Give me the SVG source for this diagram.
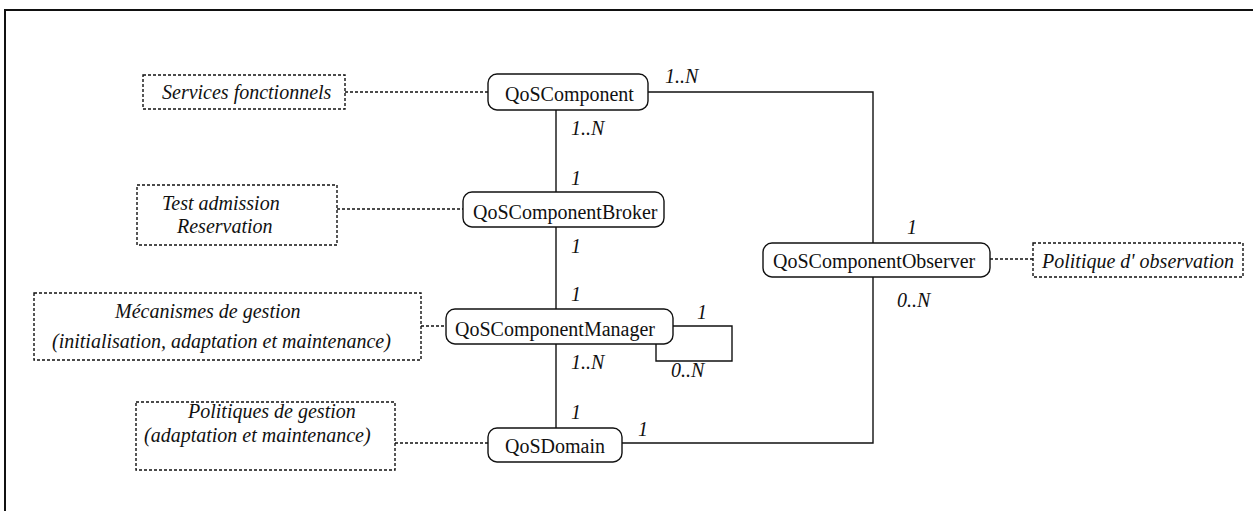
<svg xmlns="http://www.w3.org/2000/svg" width="1253" height="511" viewBox="0 0 1253 511">
<style>
.frame{fill:none;stroke:#111;stroke-width:2}
.node{fill:#fff;stroke:#111;stroke-width:1.4}
.note{fill:#fff;stroke:#111;stroke-width:1.4;stroke-dasharray:3 2}
.line{fill:none;stroke:#111;stroke-width:1.4}
.dot{fill:none;stroke:#111;stroke-width:1.4;stroke-dasharray:3 2}
.nt{font-family:"Liberation Serif",serif;font-size:20px;fill:#111}
.it{font-family:"Liberation Serif",serif;font-size:20px;font-style:italic;fill:#111}
</style>
<rect x="0" y="0" width="1253" height="511" fill="#fff"/>
<rect class="frame" x="5" y="10" width="1260" height="520"/>
<g id="connectors">
<path class="line" d="M556 110 V192 M556 227 V309 M556 344 V428"/>
<path class="line" d="M648 92 H873 V243 M873 277 V443 H622"/>
<path class="line" d="M673 326 H732 V361 H656 V344"/>
<path class="dot" d="M345 92 H488 M337 209 H463 M421 326 H446 M395 443 H488 M990 259 H1033"/>
<text class="it" x="665" y="83">1..N</text>
<text class="it" x="571" y="135">1..N</text>
<text class="it" x="571" y="185">1</text>
<text class="it" x="571" y="253">1</text>
<text class="it" x="571" y="301">1</text>
<text class="it" x="697" y="319">1</text>
<text class="it" x="671" y="377">0..N</text>
<text class="it" x="571" y="369">1..N</text>
<text class="it" x="571" y="419">1</text>
<text class="it" x="638" y="436">1</text>
<text class="it" x="907" y="234">1</text>
<text class="it" x="897" y="307">0..N</text>
</g>
<g id="qoscomponent">
<rect class="node" x="488" y="74" width="160" height="36" rx="9"/>
<text class="nt" x="505" y="101">QoSComponent</text>
</g>
<g id="broker">
<rect class="node" x="463" y="192" width="201" height="35" rx="9"/>
<text class="nt" x="473" y="219">QoSComponentBroker</text>
</g>
<g id="manager">
<rect class="node" x="446" y="309" width="227" height="35" rx="9"/>
<text class="nt" x="455" y="336">QoSComponentManager</text>
</g>
<g id="domain">
<rect class="node" x="488" y="428" width="134" height="34" rx="9"/>
<text class="nt" x="505" y="453">QoSDomain</text>
</g>
<g id="observer">
<rect class="node" x="763" y="243" width="227" height="34" rx="9"/>
<text class="nt" x="773" y="268">QoSComponentObserver</text>
</g>
<g id="note-services">
<rect class="note" x="143" y="75" width="202" height="34"/>
<text class="it" x="162" y="99">Services fonctionnels</text>
</g>
<g id="note-test">
<rect class="note" x="137" y="185" width="200" height="60"/>
<text class="it" x="162" y="210">Test admission</text>
<text class="it" x="177" y="233">Reservation</text>
</g>
<g id="note-mecanismes">
<rect class="note" x="34" y="293" width="387" height="67"/>
<text class="it" x="115" y="318">Mécanismes de gestion</text>
<text class="it" x="52" y="348">(initialisation, adaptation et maintenance)</text>
</g>
<g id="note-politiques">
<rect class="note" x="136" y="402" width="259" height="68"/>
<text class="it" x="188" y="418">Politiques de gestion</text>
<text class="it" x="144" y="442">(adaptation et maintenance)</text>
</g>
<g id="note-observation">
<rect class="note" x="1033" y="243" width="210" height="34"/>
<text class="it" x="1042" y="268">Politique d' observation</text>
</g>
</svg>
